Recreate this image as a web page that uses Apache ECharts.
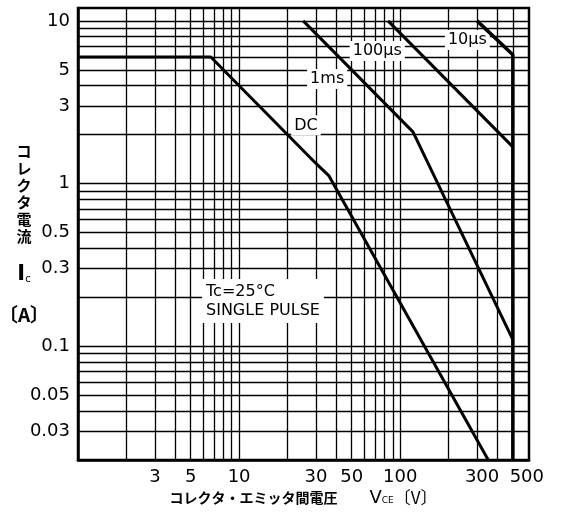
<!DOCTYPE html>
<html><head><meta charset="utf-8">
<script src="https://cdn.jsdelivr.net/npm/echarts@6/dist/echarts.min.js"></script>
<style>html,body{margin:0;padding:0;background:#fff}#c{width:561px;height:513px}</style>
</head><body><div id="c"></div>
<script>
// Tick labels
const xTickLabels = [3, 5, 10, 30, 50, 100, 300, 500];
const yTickLabels = [0.03, 0.05, 0.1, 0.3, 0.5, 1, 3, 5, 10];
// Log grid lines
const xGridValues = [2, 3, 4, 5, 6, 7, 8, 9, 10, 20, 30, 40, 50, 60, 70, 80, 90, 100, 200, 300, 400, 500];
const yGridValues = [0.03, 0.04, 0.05, 0.06, 0.07, 0.08, 0.09, 0.1, 0.2, 0.3, 0.4, 0.5, 0.6, 0.7, 0.8, 0.9, 1, 2, 3, 4, 5, 6, 7, 8, 9, 10];
// SOA curves [VCE (V), Ic (A)]
const dcCurve = [[1, 6], [6.67, 6], [30, 1.33], [36, 1.12], [352, 0.02]];
const ms1Curve = [[25, 10], [120, 2.08], [500, 0.11]];
const us100Curve = [[84, 10], [500, 1.68]];
const us10Curve = [[300, 10], [500, 6.2], [500, 0.02]];

const FONT = 'DejaVu Sans';
const JP = 'Noto Sans CJK JP';
const same = (a, b) => Math.abs(Math.log10(a) - Math.log10(b)) < 1e-6;
const fmt = list => v => { const m = list.find(t => same(t, v)); return m === undefined ? '' : String(m); };

const lbl = (text, coord, extra) => ({
  coord, value: text,
  label: Object.assign({show: true, formatter: text, position: 'inside', color: '#000', fontFamily: FONT, fontSize: 16,
    backgroundColor: '#fff', padding: [2, 3]}, extra || {})
});
const curve = (name, data, marks, w) => ({
  name, type: 'line', data, symbol: 'none', silent: true,
  lineStyle: {color: '#000', width: w || 3},
  markPoint: marks ? {symbol: 'rect', symbolSize: 0, silent: true, data: marks} : undefined,
  z: 5
});

const chart = echarts.init(document.getElementById('c'), null, {renderer: 'canvas'});
chart.setOption({
  animation: false,
  backgroundColor: '#fff',
  grid: {left: 78, right: 32, top: 8, bottom: 53, containLabel: false, outerBoundsMode: 'none',
    show: true, borderColor: '#000', borderWidth: 2.5, backgroundColor: 'transparent'},
  xAxis: {
    type: 'log', min: 1, max: 630,
    axisLine: {show: true, lineStyle: {color: '#000', width: 2.5}},
    axisTick: {show: false, customValues: xGridValues},
    splitLine: {show: true, lineStyle: {color: '#000', width: 1.3}},
    axisLabel: {customValues: xTickLabels, interval: 0, hideOverlap: false, showMaxLabel: true, showMinLabel: true,
      color: '#000', fontFamily: FONT, fontSize: 18, margin: 8,
      formatter: v => { const s = fmt(xTickLabels)(v); return s === '300' ? '{r|300}' : s === '500' ? '{q|500}' : s; },
      rich: {
        r: {fontFamily: FONT, fontSize: 18, color: '#000', padding: [0, 0, 0, 10]},
        q: {fontFamily: FONT, fontSize: 18, color: '#000', padding: [0, 0, 0, 28]}
      }},
    name: '{j|コレクタ・エミッタ間電圧}{sp|}{v|V}{s|CE}{b|〔V〕}',
    nameLocation: 'middle', nameGap: 29, nameMoveOverlap: false,
    nameTextStyle: {rich: {
      j: {fontFamily: JP, fontSize: 14, color: '#000', fontWeight: 'bold'},
      sp: {width: 32},
      v: {fontFamily: FONT, fontSize: 18, color: '#000'},
      s: {fontFamily: FONT, fontSize: 9, color: '#000', padding: [6, 0, 0, 0]},
      b: {fontFamily: JP, fontSize: 17, color: '#000'}
    }}
  },
  yAxis: {
    type: 'log', min: 0.02, max: 12,
    axisLine: {show: true, lineStyle: {color: '#000', width: 2.5}},
    axisTick: {show: false, customValues: yGridValues},
    splitLine: {show: true, lineStyle: {color: '#000', width: 1.3}},
    axisLabel: {customValues: yTickLabels, interval: 0, color: '#000', fontFamily: FONT, fontSize: 18, margin: 8, formatter: fmt(yTickLabels)},
    name: '{j|コ}\n{j|レ}\n{j|ク}\n{j|タ}\n{j|電}\n{j|流}\n{i|I}{s|c}\n{a|〔A〕}',
    nameLocation: 'middle', nameGap: 54, nameRotate: 0, nameMoveOverlap: false,
    nameTextStyle: {align: 'center', verticalAlign: 'middle', rich: {
      j: {fontFamily: JP, fontSize: 15, lineHeight: 17, color: '#000', fontWeight: 'bold', align: 'center'},
      i: {fontFamily: FONT, fontSize: 21, lineHeight: 59, color: '#000', fontWeight: 'bold'},
      s: {fontFamily: FONT, fontSize: 10, lineHeight: 59, color: '#000', padding: [10, 0, 0, 0]},
      a: {fontFamily: JP, fontSize: 19, lineHeight: 21, color: '#000', align: 'center', fontWeight: 'bold'}
    }}
  },
  series: [
    curve('DC', dcCurve, [
      lbl('DC', [26, 2.28]),
      lbl('Tc=25°C\nSINGLE PULSE', [5.48, 0.19], {position: 'right', align: 'left', lineHeight: 19, padding: [3, 4]})
    ]),
    curve('1ms', ms1Curve, [lbl('1ms', [35.2, 4.39])]),
    curve('100μs', us100Curve, [lbl('100μs', [72, 6.53])]),
    curve('10μs', us10Curve, [lbl('10μs', [261, 7.63])], 3.5)
  ]
});
</script></body></html>
